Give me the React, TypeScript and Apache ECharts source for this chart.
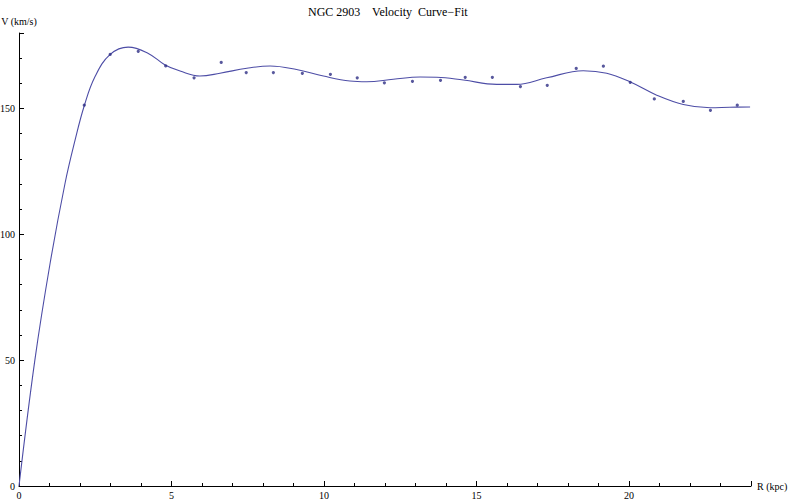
import { useEffect, useRef } from "react";
import * as echarts from "echarts";

const titleText = "NGC 2903    Velocity  Curve\u2212Fit";
const xAxisName = "R (kpc)";
const yAxisName = "V (km/s)";

// observed points
const pointR = [2.14, 2.99, 3.91, 4.81, 5.74, 6.63, 7.45, 8.34, 9.29, 10.21, 11.09, 11.98, 12.9, 13.82, 14.63, 15.52, 16.44, 17.32, 18.27, 19.16, 20.04, 20.83, 21.78, 22.67, 23.55];
const pointV = [151.3, 171.5, 172.7, 166.9, 162.2, 168.3, 164.3, 164.3, 164.0, 163.6, 162.2, 160.2, 160.8, 161.2, 162.4, 162.4, 158.7, 159.2, 165.9, 166.8, 160.4, 153.8, 152.8, 149.3, 151.3];

// fitted curve
const fitR = [0, 0.52, 1.02, 1.51, 1.84, 2.14, 2.49, 2.99, 3.58, 4.24, 4.79, 5.28, 5.93, 6.59, 7.47, 8.23, 9.1, 9.98, 10.85, 11.4, 12.27, 13.15, 13.7, 14.57, 15.66, 16.32, 17.3, 18.5, 19.27, 20.03, 20.91, 21.78, 22.66, 23.31, 23.97];
const fitV = [0, 50, 88.5, 120.3, 137.5, 151.1, 162.6, 171.5, 174.4, 171.9, 167.3, 164.9, 162.9, 164.0, 166.0, 166.9, 165.5, 162.9, 160.9, 160.6, 161.6, 162.5, 162.4, 161.3, 159.6, 159.6, 162.2, 165.0, 164.0, 160.6, 155.3, 151.6, 150.3, 150.5, 150.6];

const xMax = 24;
const yMax = 180;
const xMajor = 5;
const xMinor = 1;
const yMajor = 50;
const yMinor = 10;

const FONT = "Liberation Serif";

export default function App() {
  const ref = useRef<HTMLDivElement>(null);
  useEffect(() => {
    if (!ref.current) return;
    const chart = echarts.init(ref.current, undefined, { renderer: "svg" });
    const axisCommon = {
      type: "value" as const,
      min: 0,
      axisLine: { show: true, onZero: false, lineStyle: { color: "#000", width: 1 } },
      splitLine: { show: false },
    };
    chart.setOption({
      animation: false,
      backgroundColor: "#fff",
      title: {
        text: titleText,
        left: 303,
        top: 1,
        textStyle: { fontFamily: FONT, fontSize: 12, fontWeight: "normal", color: "#000" },
      },
      grid: { left: 19, right: 39, top: 33, bottom: 16, containLabel: false, outerBoundsMode: "none" },
      xAxis: [
        {
          ...axisCommon,
          max: xMax,
          interval: xMajor,
          position: "bottom",
          name: xAxisName,
          nameLocation: "end",
          nameGap: 6,
          nameTextStyle: { fontFamily: FONT, fontSize: 10, color: "#000" },
          axisTick: { show: true, inside: true, length: 5, lineStyle: { color: "#000" } },
          axisLabel: {
            fontFamily: FONT,
            fontSize: 10,
            color: "#000",
            margin: 4,
            formatter: (v: number) => (v % xMajor === 0 ? String(v) : ""),
          },
        },
        {
          ...axisCommon,
          max: xMax,
          interval: xMinor,
          position: "bottom",
          axisLine: { show: false, onZero: false },
          axisTick: { show: true, inside: true, length: 3, lineStyle: { color: "#000" } },
          axisLabel: { show: false },
        },
      ],
      yAxis: [
        {
          ...axisCommon,
          max: yMax,
          interval: yMajor,
          position: "left",
          name: yAxisName,
          nameLocation: "end",
          nameGap: 7,
          nameTextStyle: { fontFamily: FONT, fontSize: 10, color: "#000", align: "center" },
          axisTick: { show: true, inside: true, length: 5, lineStyle: { color: "#000" } },
          axisLabel: {
            fontFamily: FONT,
            fontSize: 10,
            color: "#000",
            margin: 4,
            formatter: (v: number) => (v % yMajor === 0 ? String(v) : ""),
          },
        },
        {
          ...axisCommon,
          max: yMax,
          interval: yMinor,
          position: "left",
          axisLine: { show: false, onZero: false },
          axisTick: { show: true, inside: true, length: 3, lineStyle: { color: "#000" } },
          axisLabel: { show: false },
        },
      ],
      series: [
        {
          type: "line",
          xAxisIndex: 0,
          yAxisIndex: 0,
          data: fitR.map((r, i) => [r, fitV[i]]),
          smooth: 0.4,
          showSymbol: false,
          symbol: "none",
          lineStyle: { color: "#4d4da6", width: 1.1 },
          z: 2,
        },
        {
          type: "scatter",
          xAxisIndex: 0,
          yAxisIndex: 0,
          data: pointR.map((r, i) => [r, pointV[i]]),
          symbol: "circle",
          symbolSize: 3.2,
          itemStyle: { color: "#2e2e85" },
          z: 3,
        },
      ],
    });
    return () => chart.dispose();
  }, []);
  return (
    <div
      ref={ref}
      style={{ position: "fixed", left: 0, top: 0, width: 790, height: 502, background: "#fff" }}
    />
  );
}
